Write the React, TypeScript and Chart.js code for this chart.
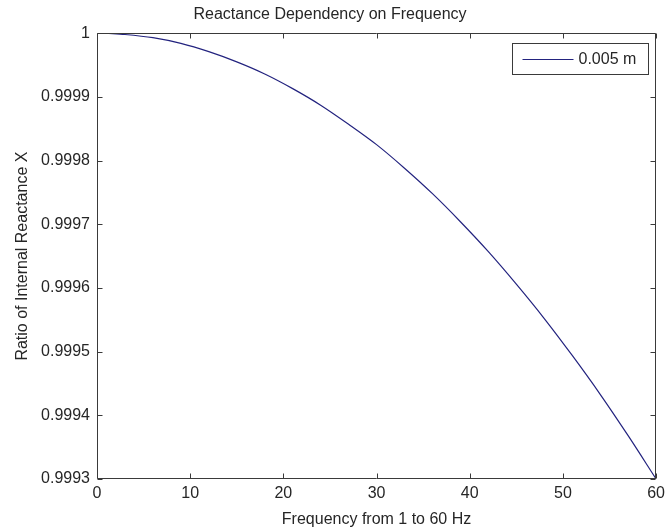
import React, { useEffect, useRef } from "react";
import { Chart, registerables } from "chart.js";

Chart.register(...registerables);

// Frequency samples (Hz) and the reactance ratio read at each one
const FREQ = [1, 3, 6, 9, 12, 15, 18, 21, 24, 27, 30, 33, 36, 39, 42, 45, 48, 51, 54, 57, 60];
const RATIO = [
  1.0, 0.999998, 0.999993, 0.999984, 0.999971, 0.999955, 0.999936, 0.999913,
  0.999887, 0.999857, 0.999825, 0.999788, 0.999748, 0.999704, 0.999657,
  0.999606, 0.999552, 0.999494, 0.999433, 0.999368, 0.9993,
];

const X_TICKS = [0, 10, 20, 30, 40, 50, 60];
const X_TICK_LABELS = ["0", "10", "20", "30", "40", "50", "60"];
const Y_TICKS = [0.9993, 0.9994, 0.9995, 0.9996, 0.9997, 0.9998, 0.9999, 1];
const Y_TICK_LABELS = ["0.9993", "0.9994", "0.9995", "0.9996", "0.9997", "0.9998", "0.9999", "1"];

const SERIES_LABEL = "0.005 m";
const TITLE = "Reactance Dependency on Frequency";
const X_TITLE = "Frequency from 1 to 60 Hz";
const Y_TITLE = "Ratio of Internal Reactance X";

const FONT = "'Liberation Sans', Arial, Helvetica, sans-serif";
const TEXT = "#262626";
const AXIS = "#3a3a3a";
const LINE = "#23237f";

// Box around the plot with inward tick marks on all four sides, plus the legend
const boxPlugin = {
  id: "boxPlugin",
  afterDraw(chart: any) {
    const { ctx, chartArea } = chart;
    const { left, right, top, bottom } = chartArea;
    const xs = chart.scales.x;
    const ys = chart.scales.y;
    const L = Math.round(left) + 0.5;
    const R = Math.round(right) - 0.5;
    const T = Math.round(top) + 0.5;
    const B = Math.round(bottom) - 0.5;
    const tl = 5;
    ctx.save();
    ctx.strokeStyle = AXIS;
    ctx.lineWidth = 1;
    ctx.beginPath();
    ctx.rect(L, T, R - L, B - T);
    for (const v of X_TICKS) {
      const px = Math.round(xs.getPixelForValue(v)) + 0.5;
      ctx.moveTo(px, B);
      ctx.lineTo(px, B - tl);
      ctx.moveTo(px, T);
      ctx.lineTo(px, T + tl);
    }
    for (const v of Y_TICKS) {
      const py = Math.round(ys.getPixelForValue(v)) + 0.5;
      ctx.moveTo(L, py);
      ctx.lineTo(L + tl, py);
      ctx.moveTo(R, py);
      ctx.lineTo(R - tl, py);
    }
    ctx.stroke();

    // legend box in the upper right corner of the plot
    const lw = 136;
    const lh = 31;
    const lx = Math.round(right) - 8 - lw + 0.5;
    const ly = Math.round(top) + 10 + 0.5;
    ctx.fillStyle = "#ffffff";
    ctx.fillRect(lx, ly, lw, lh);
    ctx.strokeStyle = AXIS;
    ctx.strokeRect(lx, ly, lw, lh);
    const cy = Math.round(ly + lh / 2) + 0.5;
    ctx.strokeStyle = LINE;
    ctx.beginPath();
    ctx.moveTo(lx + 10, cy);
    ctx.lineTo(lx + 61, cy);
    ctx.stroke();
    ctx.fillStyle = TEXT;
    ctx.font = `16px ${FONT}`;
    ctx.textBaseline = "middle";
    ctx.textAlign = "left";
    ctx.fillText(SERIES_LABEL, lx + 66, cy);
    ctx.restore();
  },
};

export default function App() {
  const ref = useRef<HTMLCanvasElement | null>(null);

  useEffect(() => {
    if (!ref.current) return;
    const chart = new Chart(ref.current, {
      type: "line",
      data: {
        datasets: [
          {
            label: SERIES_LABEL,
            data: FREQ.map((f, i) => ({ x: f, y: RATIO[i] })),
            borderColor: LINE,
            borderWidth: 1.2,
            pointRadius: 0,
            cubicInterpolationMode: "monotone",
            fill: false,
          },
        ],
      },
      options: {
        animation: false,
        responsive: false,
        devicePixelRatio: 1,
        layout: { padding: { top: 0, right: 10, bottom: 0, left: 0 } },
        plugins: {
          legend: { display: false },
          tooltip: { enabled: false },
          title: {
            display: true,
            text: TITLE,
            color: TEXT,
            font: { family: FONT, size: 16, weight: "normal", lineHeight: 1.2 },
            padding: { top: 5, bottom: 9 },
          },
        },
        scales: {
          x: {
            type: "linear",
            min: 0,
            max: 60,
            afterBuildTicks: (scale: any) => {
              scale.ticks = X_TICKS.map((v) => ({ value: v }));
            },
            afterFit: (scale: any) => {
              scale.height = 50;
            },
            ticks: {
              color: TEXT,
              font: { family: FONT, size: 16 },
              padding: 5,
              maxRotation: 0,
              autoSkip: false,
              callback: (_v: any, i: number) => X_TICK_LABELS[i],
            },
            grid: { display: false, drawTicks: false },
            border: { display: false },
            title: {
              display: true,
              text: X_TITLE,
              color: TEXT,
              font: { family: FONT, size: 16, lineHeight: 1.2 },
              padding: { top: 4, bottom: 0 },
            },
          },
          y: {
            type: "linear",
            min: 0.9993,
            max: 1,
            afterBuildTicks: (scale: any) => {
              scale.ticks = Y_TICKS.map((v) => ({ value: v }));
            },
            afterFit: (scale: any) => {
              scale.width = 97;
            },
            ticks: {
              color: TEXT,
              font: { family: FONT, size: 16 },
              padding: 7,
              autoSkip: false,
              callback: (_v: any, i: number) => Y_TICK_LABELS[i],
            },
            grid: { display: false, drawTicks: false },
            border: { display: false },
            title: {
              display: true,
              text: Y_TITLE,
              color: TEXT,
              font: { family: FONT, size: 16, lineHeight: 1.2 },
              padding: { top: 13, bottom: 0 },
            },
          },
        },
      },
      plugins: [boxPlugin],
    } as any);
    return () => chart.destroy();
  }, []);

  return (
    <div style={{ position: "absolute", left: 0, top: 0, width: 670, height: 529, background: "#ffffff" }}>
      <canvas ref={ref} width={670} height={529} style={{ display: "block" }} />
    </div>
  );
}
